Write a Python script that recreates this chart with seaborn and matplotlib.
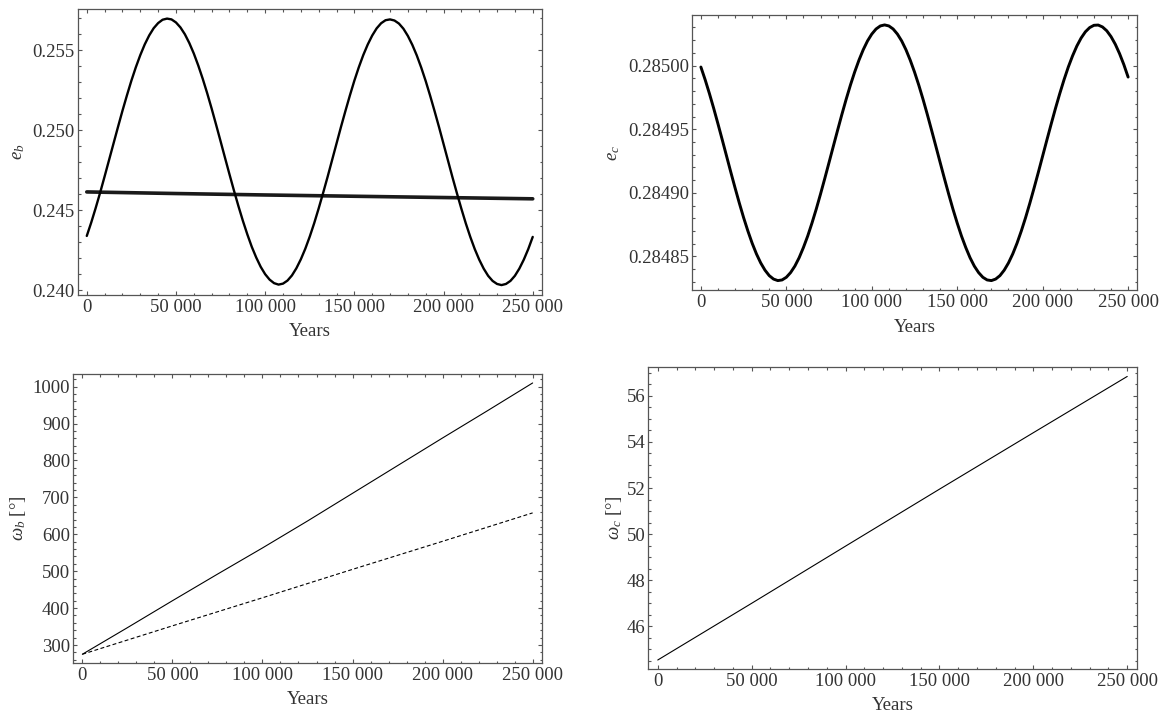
import numpy as np
import pandas as pd
import matplotlib
matplotlib.use("Agg")
import matplotlib.pyplot as plt
from matplotlib.ticker import MultipleLocator, FuncFormatter
import seaborn as sns

# ---- data -------------------------------------------------------------
years = np.arange(0, 250001, 2500)

ecc_b = [0.24340, 0.24424, 0.24515, 0.24611, 0.24712, 0.24815, 0.24918, 0.25021, 0.25122, 0.25218,
         0.25310, 0.25394, 0.25470, 0.25537, 0.25593, 0.25638, 0.25670, 0.25691, 0.25698, 0.25693,
         0.25674, 0.25643, 0.25600, 0.25545, 0.25480, 0.25405, 0.25322, 0.25232, 0.25136, 0.25035,
         0.24932, 0.24828, 0.24725, 0.24624, 0.24527, 0.24435, 0.24350, 0.24272, 0.24205, 0.24147,
         0.24101, 0.24067, 0.24045, 0.24036, 0.24042, 0.24061, 0.24093, 0.24138, 0.24194, 0.24260,
         0.24336, 0.24420, 0.24512, 0.24609, 0.24709, 0.24813, 0.24917, 0.25021, 0.25121, 0.25218,
         0.25310, 0.25394, 0.25470, 0.25536, 0.25592, 0.25637, 0.25669, 0.25688, 0.25693, 0.25686,
         0.25667, 0.25635, 0.25590, 0.25534, 0.25468, 0.25392, 0.25308, 0.25216, 0.25119, 0.25019,
         0.24915, 0.24811, 0.24707, 0.24607, 0.24510, 0.24418, 0.24334, 0.24258, 0.24192, 0.24136,
         0.24091, 0.24059, 0.24040, 0.24033, 0.24040, 0.24059, 0.24091, 0.24136, 0.24192, 0.24258,
         0.24334]

ecc_c = [0.2849989, 0.2849889, 0.2849780, 0.2849664, 0.2849542, 0.2849417, 0.2849290, 0.2849163, 0.2849039, 0.2848919,
         0.2848805, 0.2848700, 0.2848604, 0.2848520, 0.2848449, 0.2848392, 0.2848349, 0.2848322, 0.2848310, 0.2848315,
         0.2848336, 0.2848373, 0.2848424, 0.2848490, 0.2848570, 0.2848660, 0.2848762, 0.2848872, 0.2848990, 0.2849113,
         0.2849239, 0.2849366, 0.2849492, 0.2849616, 0.2849735, 0.2849847, 0.2849950, 0.2850043, 0.2850125, 0.2850194,
         0.2850248, 0.2850288, 0.2850312, 0.2850320, 0.2850312, 0.2850288, 0.2850248, 0.2850194, 0.2850125, 0.2850043,
         0.2849950, 0.2849847, 0.2849735, 0.2849616, 0.2849492, 0.2849366, 0.2849239, 0.2849113, 0.2848990, 0.2848872,
         0.2848762, 0.2848660, 0.2848570, 0.2848490, 0.2848424, 0.2848373, 0.2848336, 0.2848315, 0.2848310, 0.2848322,
         0.2848349, 0.2848392, 0.2848449, 0.2848520, 0.2848604, 0.2848700, 0.2848805, 0.2848919, 0.2849039, 0.2849163,
         0.2849290, 0.2849417, 0.2849542, 0.2849664, 0.2849780, 0.2849889, 0.2849989, 0.2850077, 0.2850154, 0.2850217,
         0.2850266, 0.2850299, 0.2850317, 0.2850319, 0.2850304, 0.2850274, 0.2850228, 0.2850168, 0.2850094, 0.2850008,
         0.2849910]

# averaged eccentricity of planet b
years_avg = [0, 50000, 100000, 150000, 200000, 250000]
ecc_b_avg = [0.24615, 0.24605, 0.24596, 0.24588, 0.24580, 0.24572]

# argument of periastron, planet b (full and secular)
years_w = [0, 25000, 50000, 75000, 100000, 125000, 150000, 175000, 200000, 225000, 250000]
omega_b = [275, 347, 420, 492, 563, 636, 711, 786, 861, 935, 1010]
years_w2 = [0, 50000, 100000, 150000, 200000, 250000]
omega_b_sec = [275, 352, 428, 505, 581, 658]

# argument of periastron, planet c
omega_c = [44.54, 47.00, 49.48, 51.95, 54.40, 56.84]

# ---- style ------------------------------------------------------------
sns.set_theme(style="ticks")
plt.rcParams["font.family"] = ["Liberation Serif", "DejaVu Serif"]
plt.rcParams["mathtext.fontset"] = "custom"
plt.rcParams["mathtext.rm"] = "Liberation Serif"
plt.rcParams["mathtext.it"] = "Liberation Serif:italic"
plt.rcParams["mathtext.bf"] = "Liberation Serif:bold"

FRAME = "#555555"
TEXT = "#333333"
FS = 13.5

W, H = 1163, 715
fig = plt.figure(figsize=(W / 100, H / 100), dpi=100)


def make_axes(x0, x1, y0, y1):
    return fig.add_axes([x0 / W, 1 - y1 / H, (x1 - x0) / W, (y1 - y0) / H])


def style(ax, ymaj, ymin, yfmt, ylim, ylabel, ylab_x):
    ax.set_xlim(-5200, 255200)
    ax.set_ylim(*ylim)
    ax.xaxis.set_major_locator(MultipleLocator(50000))
    ax.xaxis.set_minor_locator(MultipleLocator(10000))
    ax.yaxis.set_major_locator(MultipleLocator(ymaj))
    ax.yaxis.set_minor_locator(MultipleLocator(ymin))
    ax.xaxis.set_major_formatter(FuncFormatter(lambda v, p: f"{int(round(v)):,}".replace(",", " ")))
    ax.yaxis.set_major_formatter(FuncFormatter(yfmt))
    for s in ax.spines.values():
        s.set_visible(True)
        s.set_color(FRAME)
        s.set_linewidth(0.9)
    ax.tick_params(which="both", direction="in", top=True, right=True,
                   color=FRAME, width=0.8, labelsize=FS, labelcolor=TEXT)
    ax.tick_params(which="major", length=3.2)
    ax.tick_params(which="minor", length=1.8)
    ax.tick_params(axis="x", which="major", pad=3)
    ax.tick_params(axis="y", which="major", pad=2)
    ax.set_xlabel("Years", fontsize=FS, color=TEXT, va="center")
    ax.set_ylabel(ylabel, fontsize=FS, color=TEXT, va="center")
    pos = ax.get_position()
    h_px, w_px = pos.height * H, pos.width * W
    ax.xaxis.set_label_coords(0.5, -37 / h_px)
    ax.yaxis.set_label_coords((ylab_x - pos.x0 * W) / w_px, 0.5)
    ax.grid(False)


# top left: e_b
ax1 = make_axes(77.5, 542, 9, 295)
sns.lineplot(x=years_avg, y=ecc_b_avg, ax=ax1, color="#1a1a1a", lw=2.6)
sns.lineplot(x=years, y=ecc_b, ax=ax1, color="black", lw=1.7)
style(ax1, 0.005, 0.001, lambda v, p: f"{v:.3f}", (0.23971, 0.25758), r"$e_b$", 18)

# top right: e_c
ax2 = make_axes(692, 1137, 15, 290)
sns.lineplot(x=years, y=ecc_c, ax=ax2, color="black", lw=2.1)
style(ax2, 0.00005, 0.00001, lambda v, p: f"{v:.5f}", (0.2848236, 0.2850398), r"$e_c$", 613.5)

# bottom left: omega_b
ax3 = make_axes(73, 542, 374, 663)
sns.lineplot(x=years_w, y=omega_b, ax=ax3, color="black", lw=0.8)
sns.lineplot(x=years_w2, y=omega_b_sec, ax=ax3, color="black", lw=0.8,
             linestyle=(0, (3.5, 2.2)))
style(ax3, 100, 20, lambda v, p: f"{int(round(v))}", (251.3, 1034.3), r"$\omega_b$ [°]", 18)

# bottom right: omega_c
ax4 = make_axes(648, 1137, 367, 669)
sns.lineplot(x=years_w2, y=omega_c, ax=ax4, color="black", lw=0.8)
style(ax4, 2, 0.5, lambda v, p: f"{int(round(v))}", (44.15, 57.25), r"$\omega_c$ [°]", 613.5)

fig.savefig("out.png", dpi=100)
